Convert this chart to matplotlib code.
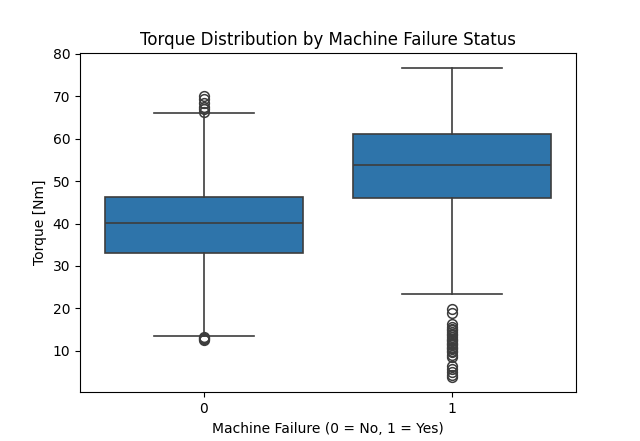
import matplotlib.pyplot as plt

groups = ["0", "1"]
q1 = [33.1, 46.1]
medians = [40.1, 53.8]
q3 = [46.2, 61.1]
whisker_low = [13.5, 23.4]
whisker_high = [66.1, 76.6]
outliers_no_failure = [66.4, 66.9, 67.6, 68.4, 69.3, 70.0, 12.6, 12.8, 13.0, 13.2]
outliers_failure = [19.8, 18.8, 16.2, 15.6, 15.2, 14.8, 14.4, 14.0, 13.6, 13.2,
                    12.8, 12.5, 12.2, 11.9, 11.6, 11.3, 11.0, 10.7, 10.4, 10.0,
                    9.6, 9.1, 8.6, 6.4, 5.6, 5.0, 4.4, 3.8]
outliers = [outliers_no_failure, outliers_failure]

fill_color = "#2e74aa"
line_color = "#3d3d3d"

stats = []
for i, name in enumerate(groups):
    stats.append({
        "label": name,
        "q1": q1[i],
        "med": medians[i],
        "q3": q3[i],
        "whislo": whisker_low[i],
        "whishi": whisker_high[i],
        "fliers": outliers[i],
    })

fig, ax = plt.subplots(figsize=(6.4, 4.41), dpi=100)
ax.bxp(
    stats,
    positions=range(len(groups)),
    widths=0.8,
    capwidths=0.4,
    patch_artist=True,
    boxprops=dict(facecolor=fill_color, edgecolor=line_color, linewidth=1.2),
    medianprops=dict(color=line_color, linewidth=1.2),
    whiskerprops=dict(color=line_color, linewidth=1.2),
    capprops=dict(color=line_color, linewidth=1.2),
    flierprops=dict(marker="o", markersize=7, markerfacecolor="none",
                    markeredgecolor=line_color, markeredgewidth=1.1),
)
ax.set_xlim(-0.5, 1.5)
ax.set_xticks(range(len(groups)))
ax.set_xticklabels(groups)
ax.set_yticks([10, 20, 30, 40, 50, 60, 70, 80])
ax.set_xlabel("Machine Failure (0 = No, 1 = Yes)")
ax.set_ylabel("Torque [Nm]")
ax.set_title("Torque Distribution by Machine Failure Status")

plt.savefig("out.png", dpi=100)
